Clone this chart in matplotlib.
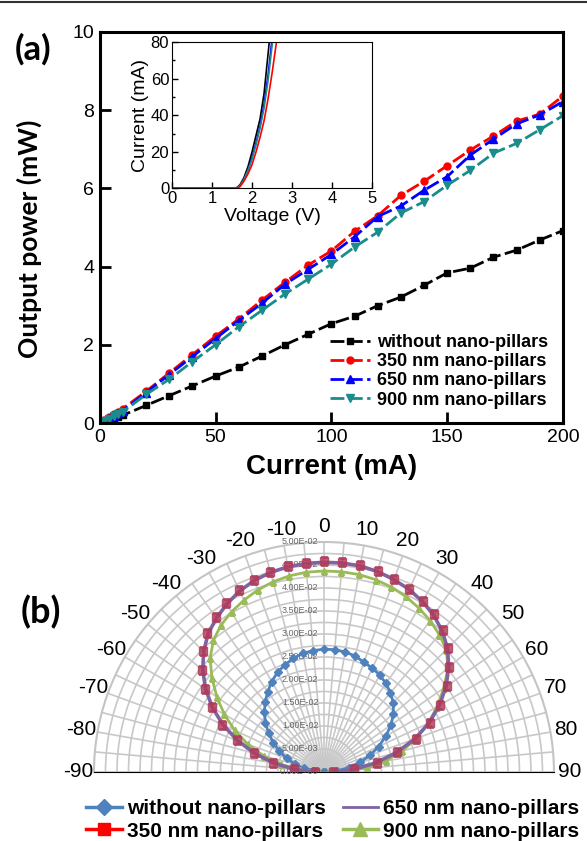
import matplotlib
matplotlib.use("Agg")
import matplotlib.pyplot as plt
import numpy as np
from matplotlib.lines import Line2D

plt.rcParams['font.family'] = ['Liberation Sans', 'DejaVu Sans']

# ---- (a) L-I data
current = [0, 2, 4, 6, 8, 10, 20, 30, 40, 50, 60, 70, 80, 90, 100,
           110, 120, 130, 140, 150, 160, 170, 180, 190, 200]
p_without = [0, 0.03, 0.07, 0.11, 0.15, 0.2, 0.45, 0.7, 0.95, 1.2, 1.43, 1.71, 2.0,
             2.27, 2.54, 2.73, 3.0, 3.22, 3.52, 3.84, 3.96, 4.24, 4.42, 4.68, 4.92]
p_350 = [0, 0.07, 0.15, 0.22, 0.29, 0.37, 0.81, 1.28, 1.75, 2.22, 2.66, 3.14, 3.6,
         4.04, 4.4, 4.9, 5.3, 5.82, 6.18, 6.58, 6.98, 7.34, 7.72, 7.9, 8.36]
p_650 = [0, 0.06, 0.13, 0.19, 0.26, 0.32, 0.78, 1.24, 1.7, 2.16, 2.62, 3.06, 3.55,
         3.93, 4.31, 4.76, 5.28, 5.55, 5.95, 6.3, 6.85, 7.26, 7.65, 7.88, 8.22]
p_900 = [0, 0.05, 0.11, 0.17, 0.23, 0.29, 0.73, 1.12, 1.57, 2.0, 2.46, 2.88, 3.3,
         3.68, 4.06, 4.5, 4.88, 5.37, 5.66, 6.08, 6.46, 6.9, 7.15, 7.5, 7.86]

# inset I-V data
v_without = [0, 1.6, 1.7, 1.8, 1.9, 2.0, 2.1, 2.2, 2.3, 2.43]
i_without = [0, 0, 2, 6, 12, 20, 29, 38, 52, 80]
v_650 = [0, 1.6, 1.7, 1.8, 1.9, 2.0, 2.1, 2.2, 2.3, 2.4, 2.49]
i_650 = [0, 0, 1.5, 5, 10, 17, 25, 34, 46, 62, 80]
v_900 = [0, 1.6, 1.7, 1.8, 1.9, 2.0, 2.1, 2.2, 2.3, 2.4, 2.51]
i_900 = [0, 0, 1.5, 5, 10, 16, 24, 33, 44, 59, 80]
v_350 = [0, 1.6, 1.7, 1.8, 1.9, 2.0, 2.1, 2.2, 2.3, 2.4, 2.5, 2.61]
i_350 = [0, 0, 1, 4, 8, 13, 20, 28, 37, 49, 63, 80]

# ---- (b) far-field data (angle in degrees, intensity)
angle = np.arange(-90, 95, 5)
r_without = [0.0003, 0.0021, 0.0044, 0.0065, 0.0086, 0.0107, 0.0127, 0.0147, 0.0166,
             0.0183, 0.0199, 0.0213, 0.0227, 0.0239, 0.0248, 0.0256, 0.0262, 0.0265,
             0.0267, 0.0267, 0.0265, 0.0261, 0.0254, 0.0249, 0.0243, 0.0235, 0.0225,
             0.0213, 0.0197, 0.0178, 0.0155, 0.0131, 0.0107, 0.0081, 0.0055, 0.0029, 0.0003]
r_350 = [0.002, 0.0065, 0.0112, 0.0158, 0.0202, 0.0244, 0.0282, 0.0316, 0.0346,
         0.0372, 0.0394, 0.041, 0.0424, 0.0436, 0.0445, 0.0451, 0.0455, 0.0457,
         0.0458, 0.0458, 0.0457, 0.0453, 0.0447, 0.044, 0.043, 0.0418, 0.0402,
         0.0382, 0.0356, 0.0326, 0.0292, 0.0254, 0.0212, 0.0165, 0.0117, 0.0066, 0.002]
r_650 = [0.002, 0.0064, 0.011, 0.0156, 0.02, 0.0242, 0.028, 0.0314, 0.0344,
         0.037, 0.0392, 0.0408, 0.0422, 0.0434, 0.0443, 0.0449, 0.0453, 0.0455,
         0.0456, 0.0456, 0.0455, 0.0451, 0.0445, 0.0438, 0.0428, 0.0416, 0.04,
         0.038, 0.0354, 0.0324, 0.029, 0.0252, 0.021, 0.0163, 0.0115, 0.0065, 0.002]
r_900 = [0.001, 0.0052, 0.0094, 0.0136, 0.0176, 0.0214, 0.025, 0.0284, 0.0318,
         0.035, 0.0374, 0.039, 0.0402, 0.0412, 0.0421, 0.0428, 0.0433, 0.0436,
         0.0437, 0.0437, 0.0436, 0.0433, 0.0428, 0.0421, 0.0412, 0.0402, 0.039,
         0.0376, 0.0352, 0.0318, 0.0284, 0.025, 0.0214, 0.0176, 0.0136, 0.0094, 0.001]
r_ticks = np.arange(0, 0.0501, 0.005)

teal = '#1a8c8c'

fig = plt.figure(figsize=(5.87, 8.41), dpi=100)
fig.add_artist(Line2D([0, 1], [0.998, 0.998], color='#333333', lw=1.5))

# ================= (a)
ax = fig.add_axes([0.170, 0.497, 0.789, 0.465])
dash = (5, 1.6)
ax.plot(current, p_without, color='black', lw=2, dashes=dash, marker='s', ms=4.5,
        label='without nano-pillars')
ax.plot(current, p_350, color='red', lw=2, dashes=dash, marker='o', ms=5,
        label='350 nm nano-pillars')
ax.plot(current, p_650, color='blue', lw=2, dashes=dash, marker='^', ms=5.5,
        label='650 nm nano-pillars')
ax.plot(current, p_900, color=teal, lw=2, dashes=dash, marker='v', ms=5.5,
        label='900 nm nano-pillars')
ax.set_xlim(0, 200)
ax.set_ylim(0, 10)
ax.set_xticks([0, 50, 100, 150, 200])
ax.set_yticks([0, 2, 4, 6, 8, 10])
ax.tick_params(direction='in', length=8, width=2, labelsize=14, pad=4)
for s in ax.spines.values():
    s.set_linewidth(2.2)
ax.set_xlabel('Current (mA)', fontsize=20, fontweight='bold', labelpad=6)
ax.set_ylabel('Output power (mW)', fontsize=19, fontweight='bold', labelpad=8,
              family=['Lato', 'DejaVu Sans'])
ax.yaxis.set_label_coords(-0.125, 0.47)
ax.legend(loc='lower right', frameon=False,
          prop={'weight': 'bold', 'size': 13}, handlelength=2.2,
          handletextpad=0.4, labelspacing=0.12, borderaxespad=0.4)
fig.text(0.056, 0.941, '(a)', fontsize=25, fontweight='bold', ha='center',
         va='center', family=['Lato', 'DejaVu Sans'])

# inset
ins = fig.add_axes([0.293, 0.776, 0.341, 0.174])
ins.plot(v_without, i_without, color='black', lw=1.2)
ins.plot(v_650, i_650, color='blue', lw=1.2)
ins.plot(v_900, i_900, color=teal, lw=1.2)
ins.plot(v_350, i_350, color='red', lw=1.2)
ins.set_xlim(0, 5)
ins.set_ylim(0, 80)
ins.set_xticks([0, 1, 2, 3, 4, 5])
ins.set_yticks([0, 20, 40, 60, 80])
ins.set_yticks([10, 30, 50, 70], minor=True)
ins.tick_params(direction='in', length=4, width=1, labelsize=12, pad=2)
ins.tick_params(which='minor', direction='in', length=2.5, width=1)
ins.set_xlabel('Voltage (V)', fontsize=14, labelpad=1)
ins.set_ylabel('Current (mA)', fontsize=14, labelpad=1)

# ================= (b)
# square box so the half disc gets radius ~230 px centred at (324, 772)
pax = fig.add_axes([0.1601, -0.0547, 0.7836, 0.547], projection='polar')
pax.set_theta_zero_location('N')
pax.set_theta_direction(-1)
pax.set_thetamin(-90)
pax.set_thetamax(90)
pax.set_ylim(0, 0.05)
grid_angles = np.arange(-90, 91, 5)
pax.set_thetagrids(grid_angles,
                   [str(a) if a % 10 == 0 else '' for a in grid_angles],
                   fontsize=15)
pax.tick_params(axis='x', pad=1)
rg = np.arange(0.0025, 0.0500, 0.0025)
pax.set_rgrids(rg, labels=[''] * len(rg))
pax.grid(color='#c8c8c8', lw=1.2)
pax.spines['polar'].set_color('#c4c4c4')
pax.spines['polar'].set_linewidth(1.5)
for k in ['start', 'end', 'inner']:
    if k in pax.spines:
        pax.spines[k].set_visible(False)
for rv in r_ticks:
    if rv >= 0.01:
        txt = '%.2fE-02' % (rv * 100)
    elif rv > 0:
        txt = '%.2fE-03' % (rv * 1000)
    else:
        txt = '0.00E+00'
    pax.annotate(txt, xy=(0, rv), xytext=(-4, 0), textcoords='offset points',
                 ha='right', va='center', fontsize=6.5, color='#666666')

th = np.radians(angle)
blue = '#4f81bd'
purple = '#8064a2'
green = '#9bbb59'
pax.plot(th, r_without, color=blue, lw=2, marker='D', ms=4.5, zorder=3)
pax.plot(th, r_900, color=green, lw=2, marker='^', ms=5, zorder=3)
pax.plot(th, r_650, color=purple, lw=2.6, zorder=4)
pax.plot(th, r_350, color='#b03a5a', lw=0, marker='s', ms=6, alpha=0.8, zorder=5)

handles = [Line2D([], [], color=blue, lw=2.5, marker='D', ms=8),
           Line2D([], [], color='red', lw=2.5, marker='s', ms=9),
           Line2D([], [], color=purple, lw=2),
           Line2D([], [], color=green, lw=2.5, marker='^', ms=10)]
labels = ['without nano-pillars', '350 nm nano-pillars',
          '650 nm nano-pillars', '900 nm nano-pillars']
fig.legend(handles, labels, loc='center', bbox_to_anchor=(0.567, 0.025), ncol=2,
           frameon=False, prop={'weight': 'bold', 'size': 15}, handlelength=1.7,
           handletextpad=0.25, columnspacing=0.8, labelspacing=0.15)
fig.text(0.07, 0.272, '(b)', fontsize=26, fontweight='bold', ha='center',
         va='center', family=['Lato', 'DejaVu Sans'])

fig.savefig('out.png', dpi=100)
